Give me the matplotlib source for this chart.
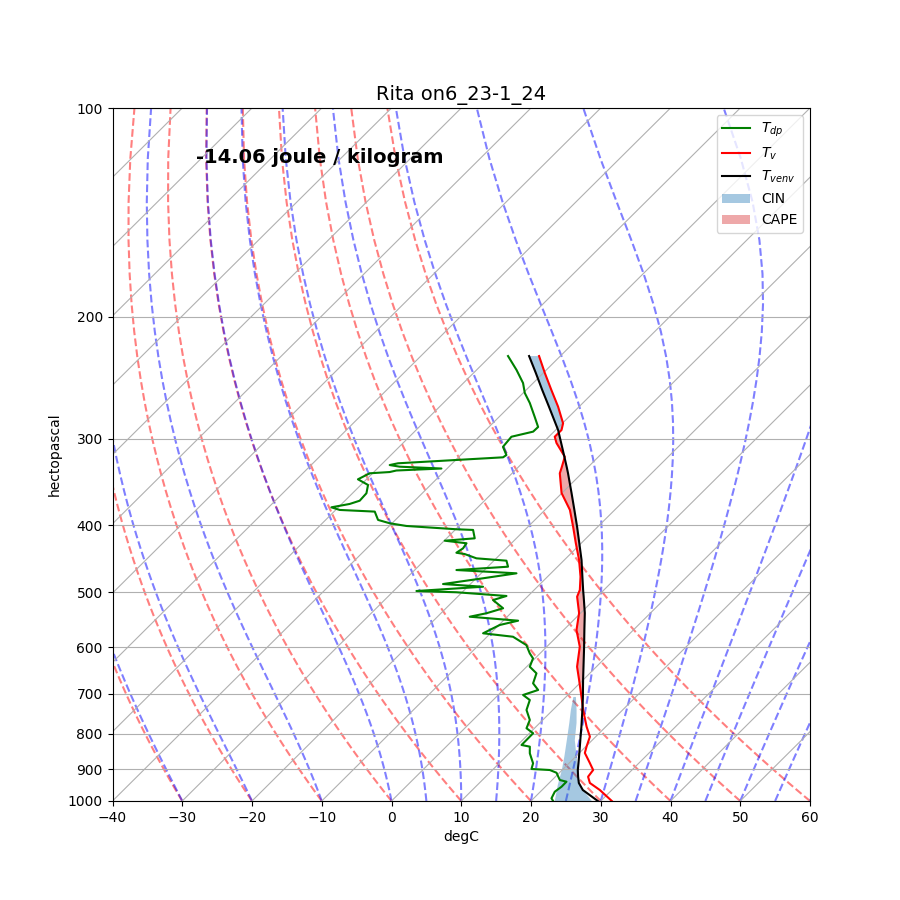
import numpy as np
import matplotlib
matplotlib.use("Agg")
import matplotlib.pyplot as plt
import matplotlib.transforms as mtransforms
from matplotlib.ticker import MultipleLocator, NullLocator, ScalarFormatter

# sondage (hPa, degC)
pressure = [228.0, 241.2, 255.3, 269.8, 285.1, 291.5, 298.1, 304.4, 318.6, 330.8,
            336.6, 359.4, 380.2, 402.0, 424.4, 449.0, 474.6, 496.0, 507.2, 535.5,
            566.6, 598.9, 640.1, 669.0, 710.1, 739.0, 781.1, 807.5, 834.8, 852.5,
            881.5, 902.2, 922.5, 941.9, 964.1, 1000.0]
t_v = [-43.05, -39.78, -36.37, -33.01, -29.90, -29.16, -29.16, -28.00, -24.83, -23.67,
       -23.16, -20.06, -16.42, -13.54, -10.80, -7.88, -5.27, -3.45, -2.87, -0.23,
       1.85, 4.73, 7.23, 9.44, 12.39, 14.34, 17.24, 19.16, 20.12, 20.79,
       22.96, 24.44, 24.68, 25.84, 28.28, 31.59]
t_venv = [-44.48, -41.07, -37.68, -34.32, -30.99, -29.65, -28.45, -27.33, -24.89, -22.89,
          -21.98, -18.63, -15.78, -12.97, -10.30, -7.53, -5.00, -2.98, -1.93, 0.59,
          2.98, 5.35, 8.15, 10.01, 12.57, 14.23, 16.50, 17.82, 19.16, 20.00,
          21.33, 22.24, 23.25, 24.26, 25.84, 29.58]

dew_pressure = [228.0, 238.8, 249.4, 257.8, 266.5, 279.2, 288.6, 293.1, 298.1, 308.2,
                316.8, 319.2, 325.6, 327.5, 329.3, 331.3, 333.5, 335.2, 336.6, 343.4,
                349.9, 359.7, 368.7, 372.7, 376.9, 380.2, 382.3, 393.0, 397.4, 401.0,
                405.4, 406.3, 417.8, 421.1, 424.7, 432.0, 438.3, 440.2, 446.5, 450.0,
                459.1, 464.2, 469.3, 477.1, 486.3, 490.7, 497.7, 499.8, 506.0, 512.9,
                527.1, 535.9, 542.1, 549.3, 557.2, 572.8, 579.4, 595.7, 612.3, 622.6,
                640.1, 654.3, 676.4, 691.5, 703.1, 715.0, 739.0, 764.0, 785.3, 798.4,
                816.6, 830.2, 834.8, 853.5, 882.3, 899.1, 902.2, 910.4, 932.6, 937.9,
                953.6, 969.6, 991.1, 1000.0]
dewpoint = [-47.50, -44.27, -41.45, -39.76, -37.60, -34.87, -32.95, -32.99, -35.37, -35.13,
            -33.45, -33.60, -47.80, -48.74, -47.06, -40.82, -46.99, -47.73, -50.42, -51.23,
            -48.97, -48.00, -47.89, -48.86, -51.00, -49.42, -44.16, -42.49, -40.33, -37.54,
            -29.90, -27.42, -25.97, -29.93, -26.44, -26.20, -26.52, -25.14, -22.84, -18.20,
            -17.10, -24.02, -14.94, -19.01, -23.92, -17.79, -26.73, -20.81, -13.10, -14.44,
            -11.81, -13.48, -15.37, -7.87, -9.88, -11.07, -6.28, -3.16, -1.48, -0.29,
            0.45, 2.36, 3.32, 5.00, 3.57, 5.26, 6.22, 8.14, 8.86, 10.53,
            10.55, 10.56, 11.99, 12.95, 14.86, 15.45, 18.23, 19.58, 21.10, 22.30,
            22.32, 22.07, 22.55, 23.17]

# zone CIN des basses couches
cin_pressure = [707.7, 739.0, 771.6, 816.6, 863.2, 902.2, 948.2, 1000.0]
cin_left = [11.06, 12.58, 14.23, 16.34, 18.39, 19.95, 21.53, 23.41]
cin_right = [11.42, 13.40, 15.27, 17.48, 20.14, 22.29, 24.59, 28.72]

cape_text = "-14.06 joule / kilogram"

Rd = 287.04749
Cp = 1004.6662
Lv = 2.50084e6
eps = 0.6219569

fig = plt.figure(figsize=(9, 9))
ax = fig.add_subplot(1, 1, 1)
ax.set_yscale("log")
ax.set_xlim(-40, 60)
ax.set_ylim(1000, 100)
ax.xaxis.set_major_locator(MultipleLocator(10))
ax.yaxis.set_major_locator(MultipleLocator(100))
ax.yaxis.set_minor_locator(NullLocator())
ax.yaxis.set_major_formatter(ScalarFormatter())
ax.yaxis.grid(True)

# transformation oblique (isothermes a 45 degres)
skew = ax.transScale + ax.transLimits + mtransforms.Affine2D().skew_deg(45, 0) + ax.transAxes

# isothermes
for t in range(-140, 61, 10):
    ax.plot([t, t], [1000, 100], transform=skew, color="#b0b0b0", linewidth=0.8, zorder=1.5)

p_lines = np.linspace(1000, 100)

# adiabatiques seches
for t0 in np.arange(-40, 61, 10):
    temp = (t0 + 273.15) * (p_lines / 1000.0) ** (Rd / Cp) - 273.15
    ax.plot(temp, p_lines, transform=skew, color="r", linestyle="--", alpha=0.5, linewidth=1.5, zorder=1)


# adiabatiques humides
def dtdp(p, t):
    tc = t - 273.15
    es = 6.112 * np.exp(17.67 * tc / (tc + 243.5))
    rs = eps * es / (p - es)
    return (Rd * t + Lv * rs) / (Cp + Lv * Lv * rs * eps / (Rd * t * t)) / p


t_moist0 = np.concatenate((np.arange(-40, 0, 10), np.arange(0, 61, 5))) + 273.15
moist = [t_moist0.copy()]
t_cur = t_moist0.copy()
for i in range(len(p_lines) - 1):
    p_a, p_b = p_lines[i], p_lines[i + 1]
    n = 20
    h = (p_b - p_a) / n
    p_cur = p_a
    for _ in range(n):
        k1 = dtdp(p_cur, t_cur)
        k2 = dtdp(p_cur + h / 2, t_cur + h / 2 * k1)
        k3 = dtdp(p_cur + h / 2, t_cur + h / 2 * k2)
        k4 = dtdp(p_cur + h, t_cur + h * k3)
        t_cur = t_cur + h / 6 * (k1 + 2 * k2 + 2 * k3 + k4)
        p_cur += h
    moist.append(t_cur.copy())
moist = np.array(moist) - 273.15
for j in range(moist.shape[1]):
    ax.plot(moist[:, j], p_lines, transform=skew, color="b", linestyle="--", alpha=0.5, linewidth=1.5, zorder=1)

# profils
ax.plot(dewpoint, dew_pressure, transform=skew, color="g", label="$T_{dp}$")
ax.plot(t_v, pressure, transform=skew, color="r", label="$T_v$")
ax.plot(t_venv, pressure, transform=skew, color="k", label="$T_{venv}$")

p_arr = np.array(pressure)
tv_arr = np.array(t_v)
tenv_arr = np.array(t_venv)
ax.fill_betweenx(p_arr, tv_arr, tenv_arr, where=(tv_arr >= tenv_arr) & (p_arr < 310),
                 interpolate=True, transform=skew, facecolor="tab:blue", alpha=0.4,
                 linewidth=0, label="CIN")
ax.fill_betweenx(cin_pressure, cin_left, cin_right, transform=skew, facecolor="tab:blue",
                 alpha=0.4, linewidth=0)
ax.fill_betweenx(p_arr, tv_arr, tenv_arr, where=tv_arr <= tenv_arr, interpolate=True,
                 transform=skew, facecolor="tab:red", alpha=0.4, linewidth=0, label="CAPE")

ax.set_xlim(-40, 60)
ax.set_ylim(1000, 100)
ax.set_xlabel("degC")
ax.set_ylabel("hectopascal")
ax.set_title("Rita on6_23-1_24", fontsize=14)
ax.text(0.12, 0.929, cape_text, transform=ax.transAxes, fontsize=14, fontweight="bold", va="center")
ax.legend(loc="upper right")

fig.savefig("out.png", dpi=100)
